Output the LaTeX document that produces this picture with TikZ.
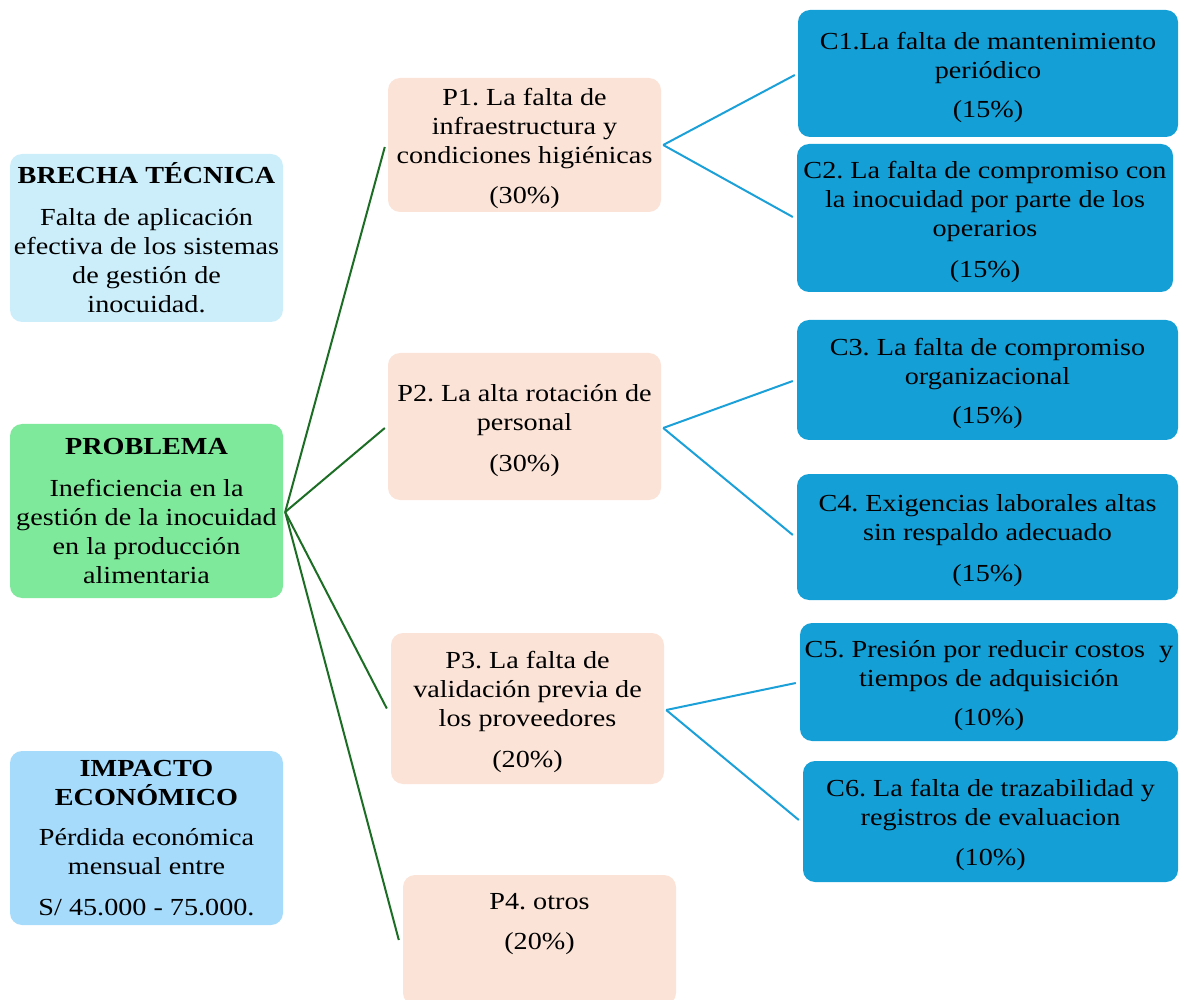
\documentclass[tikz,border=0pt]{standalone}
\usepackage{fontspec}
\setmainfont{Liberation Serif}[FakeStretch=1.15]
\frenchspacing
\definecolor{brechaC}{HTML}{CCEEFB}
\definecolor{probC}{HTML}{7FE99B}
\definecolor{impC}{HTML}{A6DBFB}
\definecolor{pC}{HTML}{FBE3D7}
\definecolor{cC}{HTML}{14A0D7}
\definecolor{gLine}{HTML}{1C6E25}
\definecolor{bLine}{HTML}{1CA0D8}
\newcommand{\topgap}{\mbox{}\\[-4pt]}
\tikzset{
  box/.style={rounded corners=12pt, inner sep=2pt, align=center,
    font=\fontsize{24.5}{29}\selectfont, text=black},
  leftbox/.style={box, minimum width=273pt},
  pbox/.style={box, fill=pC, minimum width=273pt},
  cbox/.style={box, fill=cC},
  txt/.style={align=center, inner sep=0pt, font=\fontsize{24.5}{29}\selectfont},
  gconn/.style={draw=gLine, line width=2pt},
  bconn/.style={draw=bLine, line width=2pt},
}
\begin{document}
\begin{tikzpicture}[x=1pt,y=-1pt]
\useasboundingbox (0,0) rectangle (1187,1000);

% left column
\node[leftbox, fill=brechaC, minimum height=168pt] (brecha) at (146.5,238)
  {\textbf{BRECHA TÉCNICA}\\[13pt]Falta de aplicación\\efectiva de los sistemas\\de gestión de\\inocuidad.};
\node[leftbox, fill=probC, minimum height=174pt] (prob) at (146.5,511)
  {\textbf{PROBLEMA}\\[13pt]Ineficiencia en la\\gestión de la inocuidad\\en la producción\\alimentaria};
\node[leftbox, fill=impC, minimum height=174pt] (imp) at (146.5,838)
  {\textbf{IMPACTO}\\\textbf{ECONÓMICO}\\[11pt]Pérdida económica\\mensual entre\\[12pt]S/ 45.000 - 75.000.};

% P column
\node[pbox, minimum height=134pt] (p1) at (524.5,145)
  {\topgap P1. La falta de\\infraestructura y\\condiciones higiénicas\\[11pt](30\%)};
\node[pbox, minimum height=147pt] (p2) at (524.5,426.5)
  {\topgap P2. La alta rotación de\\personal\\[12pt](30\%)};
\node[pbox, minimum height=151pt] (p3) at (527.5,708.5)
  {\topgap P3. La falta de\\validación previa de\\los proveedores\\[12pt](20\%)};
\node[pbox, minimum height=130pt] (p4) at (539.5,940) {};
\node[txt] (p4t) at (539.5,924) {P4. otros\\[11pt](20\%)};

% C column
\node[cbox, minimum width=380pt, minimum height=127pt] (c1) at (988,73.5)
  {\topgap C1.La falta de mantenimiento\\periódico\\[10pt](15\%)};
\node[cbox, minimum width=376pt, minimum height=148pt] (c2) at (985,218)
  {\topgap C2. La falta de compromiso con\\la inocuidad por parte de los\\operarios\\[12pt](15\%)};
\node[cbox, minimum width=381pt, minimum height=120pt] (c3) at (987.5,380)
  {\topgap C3. La falta de compromiso\\organizacional\\[10pt](15\%)};
\node[cbox, minimum width=381pt, minimum height=126pt] (c4) at (987.5,537)
  {\topgap C4. Exigencias laborales altas\\sin respaldo adecuado\\[12pt](15\%)};
\node[cbox, minimum width=378pt, minimum height=118pt] (c5) at (989,682)
  {\topgap C5. Presión por reducir costos\ \ y\\tiempos de adquisición\\[10pt](10\%)};
\node[cbox, minimum width=375pt, minimum height=121pt] (c6) at (990.5,821.5)
  {\topgap C6. La falta de trazabilidad y\\registros de evaluacion\\[11pt](10\%)};

% green connectors
\draw[gconn] ([xshift=2pt,yshift=-1pt]prob.east) -- ([xshift=-3pt,yshift=-2pt]p1.west);
\draw[gconn] ([xshift=2pt,yshift=-1pt]prob.east) -- ([xshift=-3pt,yshift=-1.5pt]p2.west);
\draw[gconn] ([xshift=2pt,yshift=-1pt]prob.east) -- ([xshift=-4pt]p3.west);
\draw[gconn] ([xshift=2pt,yshift=-1pt]prob.east) -- ([xshift=-4pt]p4.west);

% blue connectors
\draw[bconn] ([xshift=2pt]p1.east) -- ([xshift=-3pt,yshift=-1.5pt]c1.west);
\draw[bconn] ([xshift=2pt]p1.east) -- ([xshift=-4pt,yshift=1pt]c2.west);
\draw[bconn] ([xshift=2pt,yshift=-1.5pt]p2.east) -- ([xshift=-4pt,yshift=-1pt]c3.west);
\draw[bconn] ([xshift=2pt,yshift=-1.5pt]p2.east) -- ([xshift=-4pt,yshift=2pt]c4.west);
\draw[bconn] ([xshift=2pt,yshift=-1.5pt]p3.east) -- ([xshift=-4pt,yshift=-1pt]c5.west);
\draw[bconn] ([xshift=2pt,yshift=-1.5pt]p3.east) -- ([xshift=-4pt,yshift=1.5pt]c6.west);
\end{tikzpicture}
\end{document}
